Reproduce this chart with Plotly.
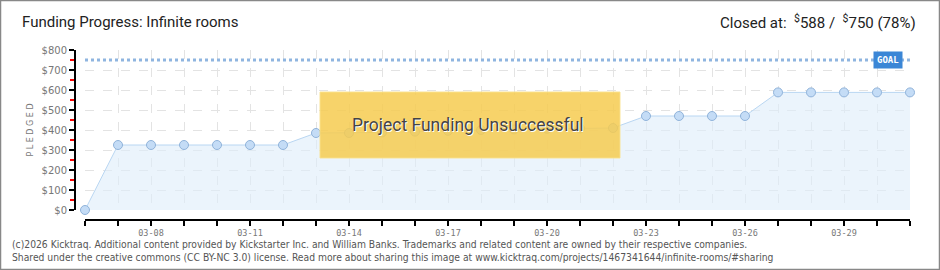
import plotly.graph_objects as go

# ---- data ----
dates = ["03-06", "03-07", "03-08", "03-09", "03-10", "03-11", "03-12", "03-13",
         "03-14", "03-15", "03-16", "03-17", "03-18", "03-19", "03-20", "03-21",
         "03-22", "03-23", "03-24", "03-25", "03-26", "03-27", "03-28", "03-29",
         "03-30", "03-31"]
pledged = [0, 325, 325, 325, 325, 325, 325, 385,
           385, 388, 392, 396, 400, 403, 406, 408,
           410, 470, 470, 470, 470, 588, 588, 588,
           588, 588]
goal = 750
y_ticks = [0, 100, 200, 300, 400, 500, 600, 700, 800]
y_ticktext = ["$" + str(v) for v in y_ticks]
label_dates = ["03-08", "03-11", "03-14", "03-17", "03-20", "03-23", "03-26", "03-29"]

W, H = 940, 270
def px(x):
    return x / W
def py(y):
    return 1 - y / H

xi = list(range(len(dates)))
label_idx = [dates.index(d) for d in label_dates]

fig = go.Figure()
fig.add_trace(go.Scatter(
    x=xi, y=pledged, mode="lines+markers",
    line=dict(color="#b9d6f2", width=1),
    marker=dict(size=9, color="#c4dcf6", line=dict(color="#90b3da", width=1)),
    fill="tozeroy", fillcolor="rgba(222,236,250,0.6)",
    cliponaxis=False, hoverinfo="skip", showlegend=False,
))
fig.add_trace(go.Scatter(
    x=[xi[0], xi[-1]], y=[goal, goal], mode="lines",
    line=dict(color="#8fb5e0", width=3, dash="dot"),
    hoverinfo="skip", showlegend=False,
))

fig.update_layout(
    width=W, height=H,
    margin=dict(l=0, r=0, t=0, b=0, pad=0, autoexpand=False),
    paper_bgcolor="white", plot_bgcolor="white",
    xaxis=dict(
        domain=[px(85), px(910)], range=[0, len(dates) - 1],
        anchor="free", position=py(220), automargin=False,
        tickmode="array", tickvals=label_idx, ticktext=label_dates,
        showline=True, linecolor="black", linewidth=2,
        ticks="outside", ticklen=5, tickcolor="black", tickwidth=2,
        minor=dict(dtick=1, tick0=0, ticks="outside", ticklen=5, tickcolor="black", tickwidth=2,
                   showgrid=True, gridcolor="#e3e3e3", griddash="dash", gridwidth=1),
        showgrid=True, gridcolor="#e3e3e3", griddash="dash", gridwidth=1,
        zeroline=False,
        tickfont=dict(family="DejaVu Sans Mono, monospace", size=8.5, color="#777"),
    ),
    yaxis=dict(
        domain=[py(210), py(50)], range=[0, 800],
        anchor="free", position=px(75), automargin=False,
        tickmode="array", tickvals=y_ticks, ticktext=y_ticktext,
        showline=True, linecolor="black", linewidth=2,
        ticks="outside", ticklen=5, tickcolor="black", tickwidth=2,
        minor=dict(dtick=50, ticks="outside", ticklen=4, tickcolor="red", tickwidth=2, showgrid=False),
        showgrid=True, gridcolor="#e3e3e3", griddash="dash", gridwidth=1,
        zeroline=False,
        tickfont=dict(family="DejaVu Sans", size=10, color="#777"),
        title=dict(text="P L E D G E D", font=dict(family="DejaVu Sans", size=8, color="#777"), standoff=6),
    ),
    font=dict(family="DejaVu Sans"),
)

cond = "Roboto, sans-serif"
ann = [
    dict(x=px(20), y=py(22), xref="paper", yref="paper", xanchor="left", yanchor="middle",
         text="Funding Progress: Infinite rooms", showarrow=False,
         font=dict(family=cond, size=15, color="#222")),
    dict(x=px(918), y=py(22), xref="paper", yref="paper", xanchor="right", yanchor="middle",
         text="Closed at:  <sup>$</sup>588 /  <sup>$</sup>750 (78%)", showarrow=False,
         font=dict(family=cond, size=15, color="#222")),
    dict(x=px(10), y=py(244), xref="paper", yref="paper", xanchor="left", yanchor="middle",
         text="(c)2026 Kicktraq. Additional content provided by Kickstarter Inc. and William Banks. Trademarks and related content are owned by their respective companies.",
         showarrow=False, font=dict(family="DejaVu Sans Condensed, DejaVu Sans", size=10.25, color="#555")),
    dict(x=px(10), y=py(257), xref="paper", yref="paper", xanchor="left", yanchor="middle",
         text="Shared under the creative commons (CC BY-NC 3.0) license. Read more about sharing this image at www.kicktraq.com/projects/1467341644/infinite-rooms/#sharing",
         showarrow=False, font=dict(family="DejaVu Sans Condensed, DejaVu Sans", size=10.25, color="#555")),
    dict(x=px(888), y=goal, xref="paper", yref="y", xanchor="center", yanchor="middle",
         text="<b>GOAL</b>", showarrow=False, bgcolor="#3b86d6", borderpad=3,
         font=dict(family="DejaVu Sans Mono", size=9, color="white")),
    dict(x=px(469), y=py(126), xref="paper", yref="paper", xanchor="center", yanchor="middle",
         text="Project Funding Unsuccessful", showarrow=False,
         font=dict(family=cond, size=17.5, color="white")),
    dict(x=px(468), y=py(125), xref="paper", yref="paper", xanchor="center", yanchor="middle",
         text="Project Funding Unsuccessful", showarrow=False,
         font=dict(family=cond, size=17.5, color="#444")),
]
fig.update_layout(annotations=ann)

fig.update_layout(shapes=[
    dict(type="rect", xref="paper", yref="paper", x0=px(320), x1=px(620), y0=py(158), y1=py(92),
         fillcolor="rgba(246,203,80,0.85)", line=dict(color="rgba(250,225,140,0.9)", width=1), layer="above"),
    dict(type="rect", xref="paper", yref="paper", x0=px(0.5), x1=px(939.5), y0=py(269.5), y1=py(0.5),
         line=dict(color="#888", width=1.5), fillcolor="rgba(0,0,0,0)"),
])

fig.write_html("out.html")
